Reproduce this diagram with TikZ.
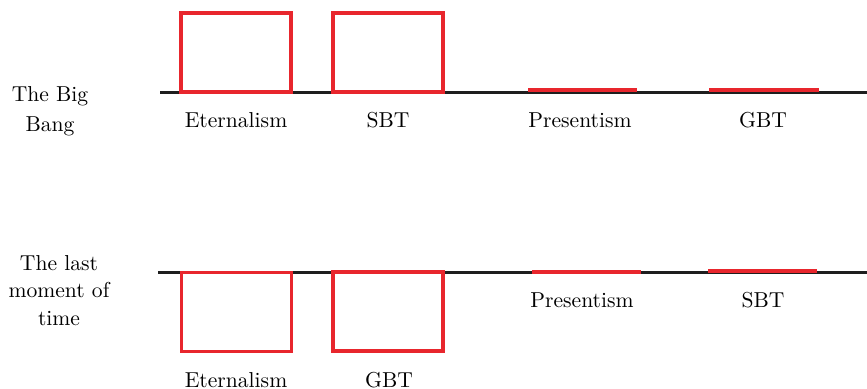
\documentclass[tikz,border=0pt]{standalone}
\usetikzlibrary{positioning}
\definecolor{boxred}{RGB}{232,38,45}
\definecolor{lineblack}{RGB}{30,30,30}

\begin{document}
\begin{tikzpicture}[
    x=0.5pt, y=-0.5pt,
    theory/.style={rectangle, draw=boxred, line width=1.6pt, fill=none, inner sep=0pt, minimum width=55pt, minimum height=39.5pt},
    timeline/.style={draw=lineblack, line width=1.5pt},
    slice/.style={draw=boxred, line width=2pt},
    label/.style={font=\fontsize{10.8}{14}\selectfont, anchor=base, inner sep=0pt}
]
    \useasboundingbox (0,0) rectangle (867,388);

    % Upper timeline (the Big Bang)
    \coordinate (t1) at (160,92);
    \coordinate (t2) at (867,92);
    \draw[timeline] (t1) -- (t2);
    \node[theory] (eternTop) at (236,52.5) {};
    \node[theory] (sbtTop) at (388,52.5) {};
    \coordinate (p1) at (528,90);
    \coordinate (p2) at (637,90);
    \coordinate (g1) at (709,90);
    \coordinate (g2) at (819,90);
    \draw[slice] (p1) -- (p2);
    \draw[slice] (g1) -- (g2);

    \node[label, align=center, font=\fontsize{10.8}{15}\selectfont] (bang) at (50,131) {The Big\\Bang};
    \node[label] (eternTopL) at (236,127) {Eternalism};
    \node[label] (sbtTopL) at (388,127) {SBT};
    \node[label] (presTopL) at (580,127) {Presentism};
    \node[label] (gbtTopL) at (763,127) {GBT};

    % Lower timeline (the last moment of time)
    \coordinate (b1) at (158,272);
    \coordinate (b2) at (867,272);
    \draw[timeline] (b1) -- (b2);
    \node[theory] (eternBot) at (236.5,312) {};
    \node[theory] (gbtBot) at (388,311.5) {};
    \coordinate (q1) at (532,272);
    \coordinate (q2) at (641,272);
    \coordinate (s1) at (708,270.5);
    \coordinate (s2) at (817,270.5);
    \draw[slice] (q1) -- (q2);
    \draw[slice] (s1) -- (s2);

    \node[label, align=center, font=\fontsize{10.8}{13.75}\selectfont] (last) at (59,325) {The last\\moment of\\time};
    \node[label] (presBotL) at (582,307) {Presentism};
    \node[label] (sbtBotL) at (763,307) {SBT};
    \node[label] (eternBotL) at (236,387) {Eternalism};
    \node[label] (gbtBotL) at (389,387) {GBT};
\end{tikzpicture}
\end{document}
